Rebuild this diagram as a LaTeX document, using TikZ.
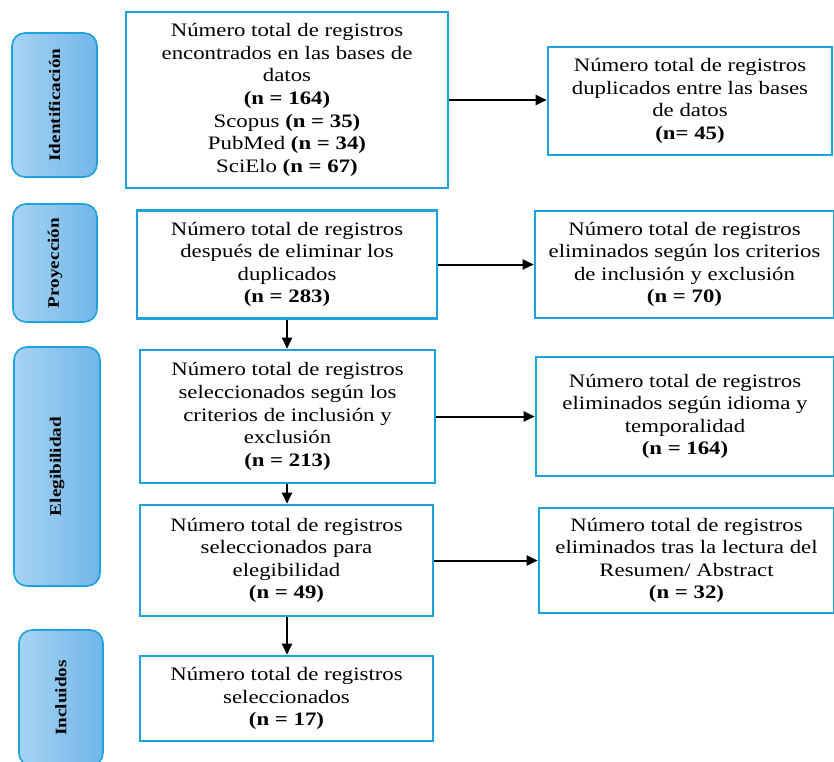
\documentclass[tikz,border=0pt]{standalone}
\usepackage{fontspec}
\setmainfont[FakeStretch=1.2]{Liberation Serif}
\usetikzlibrary{arrows.meta}
\definecolor{boxblue}{HTML}{1CA3DE}
\definecolor{sidel}{HTML}{A8D3F3}
\definecolor{sider}{HTML}{70B6E8}
\tikzset{
  box/.style={draw=boxblue, line width=2.6pt, fill=white, align=center, inner sep=0pt,
     font=\fontsize{19}{22.6}\selectfont},
  side/.style={draw=boxblue, line width=1.6pt, rounded corners=13pt, left color=sidel, right color=sider,
     font=\fontsize{16}{18}\selectfont\bfseries, inner sep=0pt},
  arr/.style={line width=2pt, -{Triangle[length=11pt,width=10pt]}}
}
\begin{document}
\begin{tikzpicture}[x=1pt,y=-1pt]
\useasboundingbox (0,0) rectangle (834,761);
% side labels
\node[side, minimum width=85pt, minimum height=144pt] (s1) at (54.5,105) {\rotatebox{90}{Identificación}};
\node[side, minimum width=84pt, minimum height=118pt] (s2) at (55,263) {\rotatebox{90}{Proyección}};
\node[side, minimum width=86pt, minimum height=239pt] (s3) at (57,466.5) {\rotatebox{90}{Elegibilidad}};
\node[side, minimum width=84pt, minimum height=136pt] (s4) at (61,698) {\rotatebox{90}{Incluidos}};
% main boxes
\node[box, minimum width=322pt, minimum height=176pt] (b1) at (287,100)
 {Número total de registros\\encontrados en las bases de\\datos\\\textbf{(n = 164)}\\Scopus \textbf{(n = 35)}\\PubMed \textbf{(n = 34)}\\SciElo \textbf{(n = 67)}};
\node[box, minimum width=284pt, minimum height=108pt] (r1) at (690,101)
 {Número total de registros\\duplicados entre las bases\\de datos\\\textbf{(n= 45)}};
\node[box, minimum width=300pt, minimum height=108pt] (b2) at (287,264.5)
 {Número total de registros\\después de eliminar los\\duplicados\\\textbf{(n = 283)}};
\node[box, minimum width=299pt, minimum height=107pt] (r2) at (684.5,264.5)
 {Número total de registros\\eliminados según los criterios\\de inclusión y exclusión\\\textbf{(n = 70)}};
\node[box, minimum width=295pt, minimum height=133pt] (b3) at (287.5,416.5)
 {Número total de registros\\seleccionados según los\\criterios de inclusión y\\exclusión\\\textbf{(n = 213)}};
\node[box, minimum width=298pt, minimum height=119pt] (r3) at (685,416.5)
 {Número total de registros\\eliminados según idioma y\\temporalidad\\\textbf{(n = 164)}};
\node[box, minimum width=293pt, minimum height=111pt] (b4) at (286.5,560.5)
 {Número total de registros\\seleccionados para\\elegibilidad\\\textbf{(n = 49)}};
\node[box, minimum width=295pt, minimum height=105pt] (r4) at (686.5,560.5)
 {Número total de registros\\eliminados tras la lectura del\\Resumen/ Abstract\\\textbf{(n = 32)}};
\node[box, minimum width=293pt, minimum height=85pt] (b5) at (286.5,698.5)
 {Número total de registros\\seleccionados\\\textbf{(n = 17)}};
% connectors
\draw[arr] (b1.east) -- (r1.west |- b1.east);
\draw[arr] (b2.east) -- (r2.west |- b2.east);
\draw[arr] (b3.east) -- (r3.west |- b3.east);
\draw[arr] (b4.east) -- (r4.west |- b4.east);
\draw[arr] (b2.south) -- (b3.north -| b2.south);
\draw[arr] (b3.south -| b2.south) -- (b4.north -| b2.south);
\draw[arr] (b4.south -| b2.south) -- (b5.north -| b2.south);
\end{tikzpicture}
\end{document}
